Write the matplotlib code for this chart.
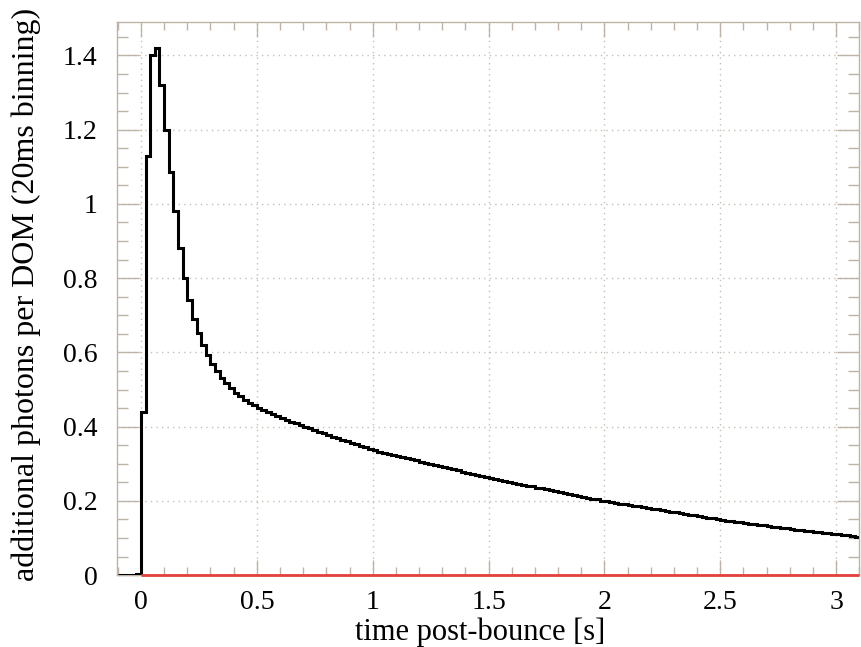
import numpy as np
import matplotlib.pyplot as plt
from matplotlib.ticker import MultipleLocator, FuncFormatter

# 20 ms bins, first bin edge at -0.1 s
bin_width = 0.02
first_edge = -0.10

# photons per DOM in each bin
photons = [
    0.0, 0.0, 0.0, 0.0, 0.004,                       # -0.10 .. -0.02
    0.44, 1.13, 1.40, 1.42, 1.32, 1.20, 1.085, 0.98, 0.88, 0.80,   # 0.00 .. 0.18
    0.74, 0.69, 0.652, 0.619, 0.592, 0.570, 0.550, 0.532, 0.517, 0.503,  # 0.20 .. 0.38
    0.492, 0.482, 0.473, 0.465, 0.458, 0.451, 0.445, 0.439, 0.433, 0.428,  # 0.40 .. 0.58
    0.423, 0.418, 0.413, 0.409, 0.404, 0.400, 0.396, 0.391, 0.387, 0.382,  # 0.60 .. 0.78
    0.378, 0.373, 0.369, 0.365, 0.361, 0.356, 0.352, 0.348, 0.344, 0.340,  # 0.80 .. 0.98
    0.336, 0.333, 0.330, 0.327, 0.324, 0.321, 0.318, 0.315, 0.312, 0.309,  # 1.00 .. 1.18
    0.306, 0.303, 0.300, 0.297, 0.294, 0.291, 0.288, 0.285, 0.282, 0.279,  # 1.20 .. 1.38
    0.276, 0.273, 0.270, 0.267, 0.265, 0.262, 0.259, 0.257, 0.254, 0.252,  # 1.40 .. 1.58
    0.249, 0.246, 0.244, 0.241, 0.239, 0.236, 0.234, 0.231, 0.229, 0.226,  # 1.60 .. 1.78
    0.224, 0.221, 0.219, 0.216, 0.214, 0.211, 0.209, 0.206, 0.204, 0.201,  # 1.80 .. 1.98
    0.199, 0.197, 0.195, 0.193, 0.191, 0.189, 0.187, 0.185, 0.183, 0.181,  # 2.00 .. 2.18
    0.179, 0.177, 0.175, 0.173, 0.171, 0.169, 0.167, 0.165, 0.163, 0.161,  # 2.20 .. 2.38
    0.159, 0.157, 0.155, 0.153, 0.151, 0.149, 0.147, 0.146, 0.144, 0.143,  # 2.40 .. 2.58
    0.141, 0.139, 0.138, 0.136, 0.135, 0.133, 0.131, 0.130, 0.128, 0.127,  # 2.60 .. 2.78
    0.125, 0.123, 0.122, 0.120, 0.119, 0.117, 0.116, 0.114, 0.113, 0.111,  # 2.80 .. 2.98
    0.110, 0.108, 0.107, 0.105, 0.104, 0.103,                             # 3.00 .. 3.10
]

x_range = (-0.103, 3.10)
y_range = (0, 1.49)
baseline_from = 0.0

edges = first_edge + bin_width * np.arange(len(photons) + 1)

plt.rcParams['font.family'] = ['Liberation Serif', 'DejaVu Serif']

fig = plt.figure(figsize=(8.61, 6.47), dpi=100)
ax = fig.add_axes([0.136, 0.111, 0.862, 0.855])

frame = '#bdb3a7'
ax.grid(True, which='major', linestyle=(0, (1, 3)), color='#c9bfb3', linewidth=1.0)
ax.set_axisbelow(True)

ax.stairs(photons, edges, color='black', linewidth=2.2, baseline=None, zorder=3)
ax.hlines(0, baseline_from, x_range[1], color='#e5403a', linewidth=2.0,
          zorder=4, clip_on=False)

ax.set_xlim(*x_range)
ax.set_ylim(*y_range)

ax.xaxis.set_major_locator(MultipleLocator(0.5))
ax.xaxis.set_minor_locator(MultipleLocator(0.1))
ax.yaxis.set_major_locator(MultipleLocator(0.2))
ax.yaxis.set_minor_locator(MultipleLocator(0.05))
fmt = FuncFormatter(lambda v, p: '%g' % round(v, 3))
ax.xaxis.set_major_formatter(fmt)
ax.yaxis.set_major_formatter(fmt)

for s in ax.spines.values():
    s.set_color(frame)
    s.set_linewidth(1.0)

ax.tick_params(which='both', direction='in', top=True, right=True,
               color=frame, labelsize=20, width=1.0)
ax.tick_params(axis='x', which='major', length=11, pad=11)
ax.tick_params(axis='x', which='minor', length=6)
ax.tick_params(axis='y', which='major', length=16, pad=14)
ax.tick_params(axis='y', which='minor', length=8)

ax.set_xlabel('time post-bounce [s]', fontsize=22)
ax.set_ylabel('additional photons per DOM (20ms binning)', fontsize=23)
ax.xaxis.set_label_coords(0.489, -0.076)
ax.yaxis.set_label_coords(-0.102, 0.508)

fig.savefig('out.png', dpi=100)
